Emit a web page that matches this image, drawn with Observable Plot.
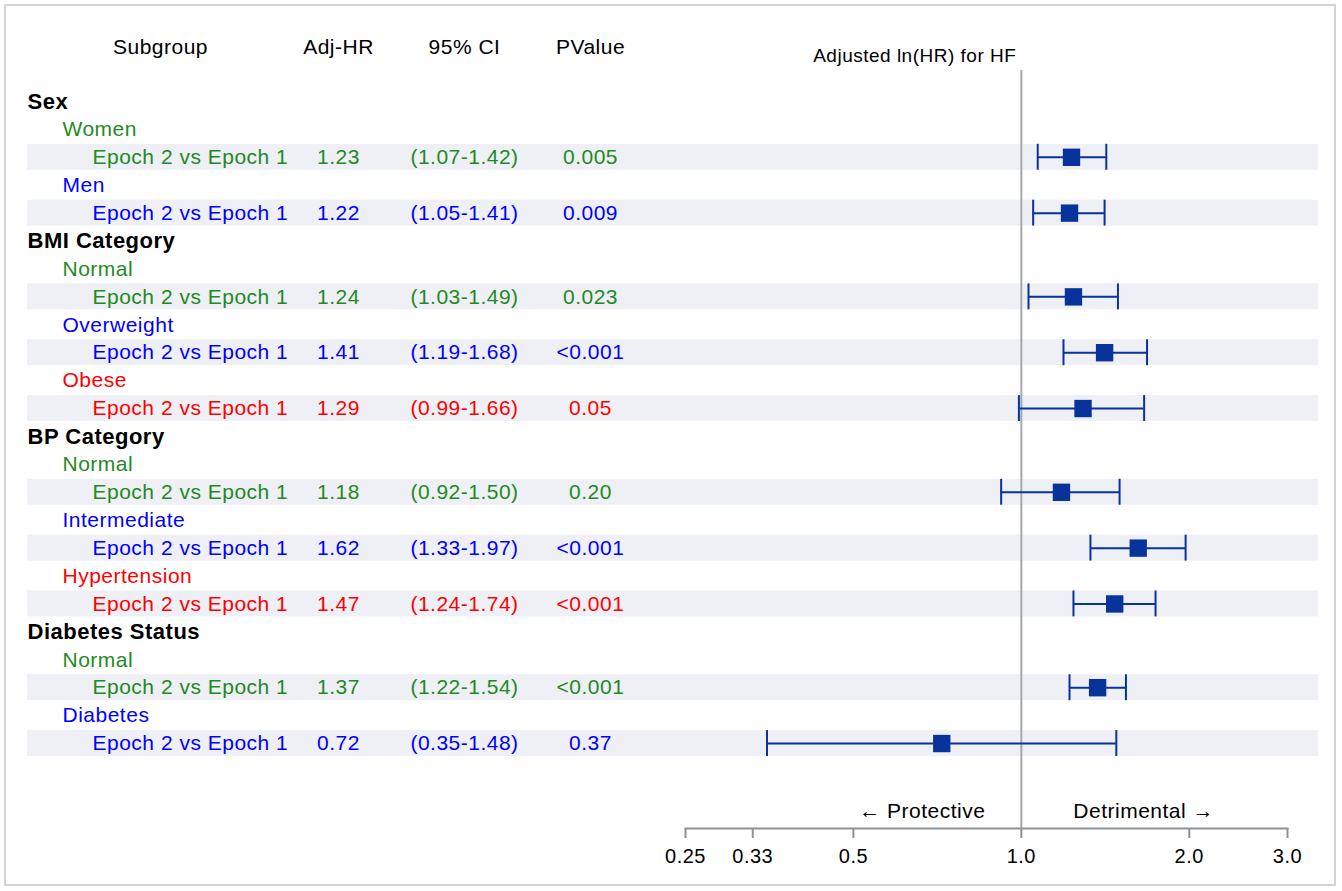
<!DOCTYPE html>
<html><head><meta charset="utf-8">
<script src="https://cdn.jsdelivr.net/npm/d3@7"></script>
<script src="https://cdn.jsdelivr.net/npm/@observablehq/plot@0.6"></script>
<style>
html,body{margin:0;padding:0;background:#fff;}
#chart{position:relative;width:1342px;height:891px;}
#border{position:absolute;left:4px;top:4px;width:1328px;height:878px;border:2px solid #d3d3d3;pointer-events:none;}
</style></head><body>
<div id="chart"><div id="border"></div></div>
<script>
// ---- data ----
const columnHeaders = ["Subgroup", "Adj-HR", "95% CI", "PValue"];
const plotTitle = "Adjusted ln(HR) for HF";
const groups = ["Sex", "BMI Category", "BP Category", "Diabetes Status"];
const subgroups = ["Women", "Men", "Normal", "Overweight", "Obese", "Normal", "Intermediate", "Hypertension", "Normal", "Diabetes"];
const subgroupGroup = [0, 0, 1, 1, 1, 2, 2, 2, 3, 3];
const comparison = "Epoch 2 vs Epoch 1";
const hr = [1.23, 1.22, 1.24, 1.41, 1.29, 1.18, 1.62, 1.47, 1.37, 0.72];
const lower = [1.07, 1.05, 1.03, 1.19, 0.99, 0.92, 1.33, 1.24, 1.22, 0.35];
const upper = [1.42, 1.41, 1.49, 1.68, 1.66, 1.50, 1.97, 1.74, 1.54, 1.48];
const pvalue = ["0.005", "0.009", "0.023", "<0.001", "0.05", "0.20", "<0.001", "<0.001", "<0.001", "0.37"];
const xTicks = [0.25, 0.33, 0.5, 1, 2, 3];
const xTickLabels = ["0.25", "0.33", "0.5", "1.0", "2.0", "3.0"];
const refHR = 1;
const directionLabels = ["\u2190 Protective", "Detrimental \u2192"];

// ---- layout / style ----
const W = 1342, H = 891;
const M = {top: 70, bottom: 63, left: 27, right: 24};
const xRange = [685, 1287];
const yRange = [87, 757];
const colX = [160, 338, 464, 590];   // header / value column centres
const labelIndent = [0, 35, 65];      // group, subgroup, comparison
const palette = ["#1f8a1f", "#0000ff", "#ff0000"];
const markColor = "#07339b";
const gray = "#8e9296";
const font = "'Liberation Sans', Arial, Helvetica, sans-serif";
const FS = 21;

// ---- build table ----
const rows = [];
groups.forEach((g, gi) => {
  rows.push({id: "g" + gi, kind: "group", label: g, color: "#000"});
  let pos = 0;
  subgroups.forEach((s, si) => {
    if (subgroupGroup[si] !== gi) return;
    const color = palette[pos++];
    rows.push({id: "s" + si, kind: "sub", label: s, color});
    rows.push({id: "e" + si, kind: "est", label: comparison, color,
      hr: hr[si], lo: lower[si], hi: upper[si], p: pvalue[si],
      hrText: hr[si].toFixed(2),
      ciText: `(${lower[si].toFixed(2)}-${upper[si].toFixed(2)})`});
  });
});
const est = rows.filter(r => r.kind === "est");
const tickLabel = new Map(xTicks.map((t, i) => [t, xTickLabels[i]]));
const kinds = ["group", "sub", "est"];

const textCommon = {frameAnchor: "left", lineAnchor: "middle", fontSize: FS};

const chart = Plot.plot({
  width: W, height: H,
  marginTop: M.top, marginBottom: M.bottom, marginLeft: M.left, marginRight: M.right,
  style: {fontFamily: font, fontSize: FS + "px", letterSpacing: "0.5px", background: "transparent", overflow: "visible"},
  x: {type: "log", domain: [xTicks[0], xTicks[xTicks.length - 1]], range: xRange, axis: null},
  y: {type: "band", domain: rows.map(r => r.id), range: yRange, padding: 0, round: false, axis: null},
  marks: [
    Plot.cell(est, {y: "id", fill: "#eef0f6", insetTop: 1, insetBottom: 1}),
    // reference line
    Plot.ruleX([refHR], {stroke: "#a4a8ac", strokeWidth: 2}),
    // axis line, ticks and labels
    Plot.frame({anchor: "bottom", stroke: gray, strokeWidth: 2,
      insetLeft: xRange[0] - M.left, insetRight: (W - M.right) - xRange[1]}),
    Plot.axisX(xTicks, {anchor: "bottom", tickSize: 10, tickPadding: 10, fontSize: 20,
      stroke: gray, strokeWidth: 2, fill: "black", tickFormat: d => tickLabel.get(d)}),
    // direction labels
    Plot.text([directionLabels[0]], {x: [refHR], text: d => d, frameAnchor: "bottom", textAnchor: "end",
      lineAnchor: "middle", dx: -36, dy: -17, fontSize: FS, fill: "black"}),
    Plot.text([directionLabels[1]], {x: [refHR], text: d => d, frameAnchor: "bottom", textAnchor: "start",
      lineAnchor: "middle", dx: 52, dy: -17, fontSize: FS, fill: "black"}),
    // title above plot area
    Plot.text([plotTitle], {x: [refHR], text: d => d, frameAnchor: "top", textAnchor: "end", lineAnchor: "middle",
      dx: -5, dy: -15, fontSize: 19, fill: "black"}),
    // column headers
    ...columnHeaders.map((h, i) => Plot.text([h], {text: d => d, frameAnchor: "top-left", textAnchor: "middle",
      lineAnchor: "middle", dx: colX[i] - M.left, dy: -23, fontSize: FS, fill: "black"})),
    // row labels
    ...kinds.map((k, ki) => Plot.text(rows.filter(r => r.kind === k), {...textCommon, y: "id", text: "label",
      fill: "color", textAnchor: "start", dx: labelIndent[ki],
      fontSize: k === "group" ? 22 : FS, fontWeight: k === "group" ? "bold" : "normal"})),
    // value columns
    Plot.text(est, {...textCommon, y: "id", text: "hrText", fill: "color", textAnchor: "middle", dx: colX[1] - M.left}),
    Plot.text(est, {...textCommon, y: "id", text: "ciText", fill: "color", textAnchor: "middle", dx: colX[2] - M.left}),
    Plot.text(est, {...textCommon, y: "id", text: "p", fill: "color", textAnchor: "middle", dx: colX[3] - M.left}),
    // forest marks
    Plot.ruleY(est, {y: "id", x1: "lo", x2: "hi", stroke: markColor, strokeWidth: 2}),
    Plot.tickX(est, {x: "lo", y: "id", stroke: markColor, strokeWidth: 2, insetTop: 1, insetBottom: 1}),
    Plot.tickX(est, {x: "hi", y: "id", stroke: markColor, strokeWidth: 2, insetTop: 1, insetBottom: 1}),
    Plot.dot(est, {x: "hr", y: "id", symbol: "square", r: 9.8, fill: markColor, stroke: "none"})
  ]
});
chart.style.position = "absolute";
chart.style.left = "0px";
chart.style.top = "0px";
document.getElementById("chart").prepend(chart);
</script>
</body></html>
